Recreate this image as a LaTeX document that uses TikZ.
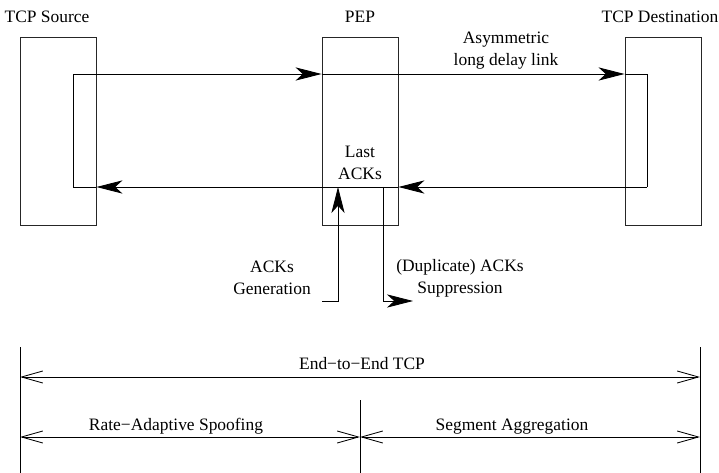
\documentclass[tikz,border=0pt]{standalone}
\usepackage{fontspec}
\setmainfont{Liberation Serif}
\usetikzlibrary{arrows.meta}

\tikzset{
    host/.style={draw=black!85, line width=0.6pt, minimum width=1.9cm, minimum height=4.7cm, inner sep=0pt},
    link/.style={draw=black, line width=0.6pt},
    flow/.style={link, -{Stealth[length=0.65cm, width=0.33cm, inset=0.18cm]}},
    span/.style={link, {Straight Barb[length=0.53cm, width=0.3cm]}-{Straight Barb[length=0.53cm, width=0.3cm]}},
    lbl/.style={font=\fontsize{12.4}{15.6}\selectfont, inner sep=0pt, align=center},
}

\begin{document}
\begin{tikzpicture}[x=0.025cm, y=-0.025cm]
    \useasboundingbox (0,0) rectangle (719,473);

    % the three hosts
    \node[host] (src) at (58,131) {};
    \node[host] (pep) at (360,131) {};
    \node[host] (dst) at (663,131) {};

    \node[lbl, anchor=base] (srcname) at (47,23) {TCP Source};
    \node[lbl, anchor=base] (pepname) at (360,23) {PEP};
    \node[lbl, anchor=base] (dstname) at (660,23) {TCP Destination};

    % data and ACK loop
    \coordinate (s1) at (73,74);
    \coordinate (s2) at (73,187);
    \coordinate (d1) at (647,74);
    \coordinate (d2) at (647,187);

    \draw[link] (s2 -| src.east) -- (s2) -- (s1);
    \draw[flow] (s1) -- (s1 -| pep.west);
    \draw[flow] (s1 -| pep.west) -- (s1 -| dst.west);
    \draw[link] (s1 -| dst.west) -- (d1) -- (d2);
    \draw[flow] (d2) -- (d2 -| pep.east);
    \draw[flow] (d2 -| pep.east) -- (s2 -| src.east);

    \node[lbl] (link) at (506,51) {Asymmetric\\long delay link};
    \node[lbl] (last) at (360,163) {Last\\ACKs};

    % ACK generation / suppression at the PEP
    \coordinate (g0) at (322,301);
    \coordinate (g1) at (338,301);
    \draw[flow] (g0) -- (g1) -- (g1 |- s2);

    \coordinate (u0) at (383,187);
    \coordinate (u1) at (383,301);
    \coordinate (u2) at (413,301);
    \draw[flow] (u0) -- (u1) -- (u2);

    \node[lbl] (gen) at (272,278) {ACKs\\Generation};
    \node[lbl] (supp) at (460,278) {(Duplicate) ACKs\\Suppression};

    % spans
    \coordinate (lt) at (20,347);
    \coordinate (lb) at (20,473);
    \coordinate (rt) at (700,347);
    \coordinate (rb) at (700,473);
    \coordinate (mt) at (360,400);
    \coordinate (mb) at (360,473);
    \draw[link] (lt) -- (lb);
    \draw[link] (rt) -- (rb);
    \draw[link] (mt) -- (mb);

    \coordinate (a1) at (20,377);
    \coordinate (a2) at (700,377);
    \draw[span] (a1) -- (a2);

    \coordinate (b1) at (20,437);
    \coordinate (b2) at (360,437);
    \coordinate (b3) at (700,437);
    \draw[span] (b1) -- (b2);
    \draw[span] (b2) -- (b3);

    \node[lbl, anchor=base] (e2e) at (362,369) {End−to−End TCP};
    \node[lbl, anchor=base] (ras) at (176,430) {Rate−Adaptive Spoofing};
    \node[lbl, anchor=base] (sa) at (512,430) {Segment Aggregation};
\end{tikzpicture}
\end{document}
